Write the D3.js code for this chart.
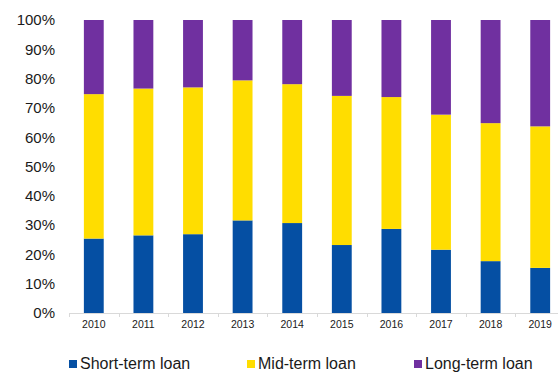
<!DOCTYPE html>
<html>
<head>
<meta charset="utf-8">
<script src="https://cdn.jsdelivr.net/npm/d3@7"></script>
<style>
  html, body { margin: 0; padding: 0; background: #fff; }
  svg { display: block; font-family: "Liberation Sans", Arial, sans-serif; }
</style>
</head>
<body>
<svg id="chart" width="558" height="372"></svg>
<script>
// Loan structure by maturity, share of total (%)
const years = ["2010", "2011", "2012", "2013", "2014", "2015", "2016", "2017", "2018", "2019"];
const shortTerm = [25.4, 26.5, 26.9, 31.6, 30.7, 23.2, 28.7, 21.6, 17.7, 15.4];
const midTerm   = [49.3, 50.1, 50.1, 47.8, 47.4, 50.9, 45.0, 46.1, 47.1, 48.3];
const longTerm  = [25.3, 23.4, 23.0, 20.6, 21.9, 25.9, 26.3, 32.3, 35.2, 36.3];
const seriesNames = ["Short-term loan", "Mid-term loan", "Long-term loan"];
const seriesColors = ["#054FA3", "#FFDD00", "#7030A0"];
const yTicks = [0, 10, 20, 30, 40, 50, 60, 70, 80, 90, 100];

const svg = d3.select("#chart");

const rows = years.map((y, i) => ({
  year: y,
  "Short-term loan": shortTerm[i],
  "Mid-term loan": midTerm[i],
  "Long-term loan": longTerm[i]
}));

const stacked = d3.stack().keys(seriesNames)(rows);

const x = d3.scaleBand()
  .domain(years)
  .range([69, 565])
  .paddingInner(0.6)
  .paddingOuter(0.3);

const y = d3.scaleLinear().domain([0, 100]).range([313, 20]);

const color = d3.scaleOrdinal().domain(seriesNames).range(seriesColors);

// Stacked bars
svg.append("g")
  .selectAll("g")
  .data(stacked)
  .join("g")
  .attr("fill", d => color(d.key))
  .selectAll("rect")
  .data(d => d)
  .join("rect")
  .attr("x", d => x(d.data.year))
  .attr("y", d => y(d[1]))
  .attr("width", x.bandwidth())
  .attr("height", d => y(d[0]) - y(d[1]));

// Y axis labels (no axis line)
const yAxis = d3.axisLeft(y)
  .tickValues(yTicks)
  .tickFormat(d => d + "%")
  .tickSize(0)
  .tickPadding(0);

const gy = svg.append("g")
  .attr("transform", "translate(55,0)")
  .call(yAxis);
gy.select(".domain").remove();
gy.selectAll("text")
  .attr("font-size", 15)
  .attr("font-family", "Liberation Sans, Arial, sans-serif")
  .attr("fill", "#1a1a1a");

// X axis: light baseline with ticks at category boundaries
const step = x.step();
const x0 = x.range()[0];
const gx = svg.append("g");
gx.append("line")
  .attr("x1", x0).attr("x2", 558)
  .attr("y1", y(0) + 0.5).attr("y2", y(0) + 0.5)
  .attr("stroke", "#d9d9d9").attr("stroke-width", 1);
gx.selectAll("line.tick")
  .data(d3.range(years.length + 1))
  .join("line")
  .attr("class", "tick")
  .attr("x1", i => Math.round(x0 + i * step) + 0.5)
  .attr("x2", i => Math.round(x0 + i * step) + 0.5)
  .attr("y1", y(0))
  .attr("y2", y(0) + 4)
  .attr("stroke", "#d9d9d9");
gx.selectAll("text")
  .data(years)
  .join("text")
  .attr("x", d => x(d) + x.bandwidth() / 2)
  .attr("y", 328)
  .attr("text-anchor", "middle")
  .attr("font-size", 10.5)
  .attr("fill", "#1a1a1a")
  .text(d => d);

// Legend
const legendX = [69, 247, 414];
const legend = svg.append("g")
  .selectAll("g")
  .data(seriesNames)
  .join("g")
  .attr("transform", (d, i) => `translate(${legendX[i]},360)`);
legend.append("rect")
  .attr("width", 8).attr("height", 8)
  .attr("fill", d => color(d));
legend.append("text")
  .attr("x", 11)
  .attr("y", 8.5)
  .attr("font-size", 16)
  .attr("fill", "#1a1a1a")
  .text(d => d);
</script>
</body>
</html>
